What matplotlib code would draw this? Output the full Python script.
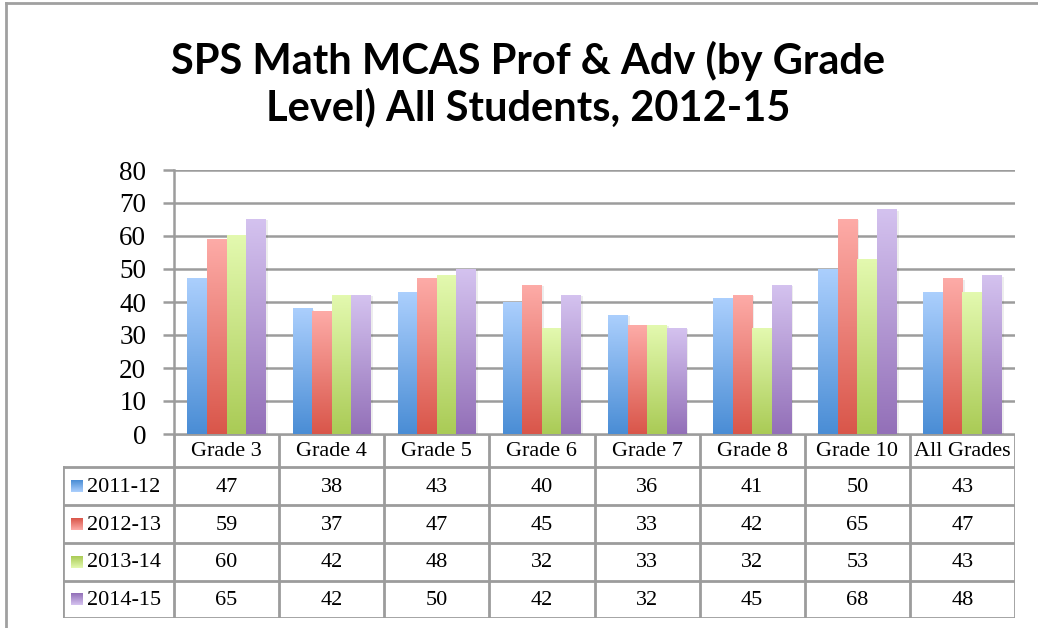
import numpy as np
import matplotlib
matplotlib.use("Agg")
import matplotlib.pyplot as plt
from matplotlib.colors import LinearSegmentedColormap
from matplotlib.lines import Line2D
from matplotlib.patches import Rectangle
from matplotlib import font_manager

# данные
grades = ["Grade 3", "Grade 4", "Grade 5", "Grade 6", "Grade 7", "Grade 8", "Grade 10", "All Grades"]
years = ["2011-12", "2012-13", "2013-14", "2014-15"]
v_2011 = [47, 38, 43, 40, 36, 41, 50, 43]
v_2012 = [59, 37, 47, 45, 33, 42, 65, 47]
v_2013 = [60, 42, 48, 32, 33, 32, 53, 43]
v_2014 = [65, 42, 50, 42, 32, 45, 68, 48]
series = [v_2011, v_2012, v_2013, v_2014]

# градиенты: (низ, верх)
grads = [("#4a8dd5", "#abcffd"),
         ("#d9564a", "#fdaba7"),
         ("#aacb56", "#e3f9af"),
         ("#9370b8", "#d4c2ef")]

W, H = 1038, 628
fig = plt.figure(figsize=(W / 100, H / 100), dpi=100)

names = {f.name for f in font_manager.fontManager.ttflist}
title_font = "Liberation Sans Narrow" if "Liberation Sans Narrow" in names else "Lato"
serif = "Liberation Serif"
grid_c = "#9c9c9c"

def px_axes(x0, y0, x1, y1):
    return fig.add_axes([x0 / W, 1 - y1 / H, (x1 - x0) / W, (y1 - y0) / H])

# рамка картинки
fig.add_artist(Line2D([6 / W, 1], [1 - 3 / H, 1 - 3 / H], color="#a0a0a0", lw=2))
fig.add_artist(Line2D([6 / W, 6 / W], [0, 1 - 3 / H], color="#a0a0a0", lw=2))

fig.text(528 / W, 1 - 84 / H, "SPS Math MCAS Prof & Adv (by Grade\nLevel) All Students, 2012-15",
         ha="center", va="center", fontsize=30, fontweight="bold", family=title_font,
         linespacing=1.2)

# график
ax = px_axes(174, 170, 1015, 434)
x = np.arange(len(grades))
bw = 0.186
for i, vals in enumerate(series):
    cmap = LinearSegmentedColormap.from_list("g%d" % i, grads[i])
    bars = ax.bar(x + (i - 1.5) * bw, vals, bw, color="none", zorder=3)
    for b in bars:
        x0, w, h = b.get_x(), b.get_width(), b.get_height()
        ax.add_patch(Rectangle((x0 + 0.02, 0), w, h - 0.3, color="#000000", alpha=0.07, zorder=2, lw=0))
        ax.imshow(np.linspace(0, 1, 128).reshape(-1, 1), cmap=cmap, origin="lower",
                  extent=[x0, x0 + w, 0, h], aspect="auto", zorder=3)

ax.set_xlim(-0.5, len(grades) - 0.5)
ax.set_ylim(0, 80)
ax.set_yticks(range(0, 81, 10))
ax.set_xticks([])
ax.grid(axis="y", color=grid_c, lw=1.8, zorder=1)
for s in ["top", "right", "bottom"]:
    ax.spines[s].set_visible(False)
ax.spines["left"].set_color(grid_c)
ax.spines["left"].set_linewidth(1.8)
ax.tick_params(axis="y", length=8, width=1.8, color=grid_c, pad=12, labelsize=19.5)
for lab in ax.get_yticklabels():
    lab.set_family(serif)
ax.set_facecolor("none")

# таблица
tx = px_axes(63, 434, 1015, 618)
left_x = -0.5 - (174 - 63) / ((1015 - 174) / len(grades))
tx.axis("off")
rows = [434, 467, 505, 543, 580.5, 618]
lk = dict(color=grid_c, lw=2, solid_capstyle="projecting")
tx.plot([-0.5, len(grades) - 0.5], [rows[0], rows[0]], **lk)
for r in rows[1:]:
    tx.plot([left_x, len(grades) - 0.5], [r, r], **lk)
for k in range(len(grades) + 1):
    tx.plot([k - 0.5, k - 0.5], [rows[0], rows[-1]], **lk)
tx.plot([left_x, left_x], [rows[1], rows[-1]], **lk)

fs = 16
for j, g in enumerate(grades):
    tx.text(j, (rows[0] + rows[1]) / 2 + 1, g, ha="center", va="center", fontsize=fs, family=serif)
px_unit = (1015 - 174) / len(grades)
for i, vals in enumerate(series):
    yc = (rows[i + 1] + rows[i + 2]) / 2
    cmap = LinearSegmentedColormap.from_list("k%d" % i, grads[i])
    kx = left_x + 8 / px_unit
    tx.imshow(np.linspace(0, 1, 32).reshape(-1, 1), cmap=cmap, origin="upper",
              extent=[kx, kx + 12 / px_unit, yc + 6, yc - 6], aspect="auto")
    tx.text(left_x + 24 / px_unit, yc + 1, years[i], ha="left", va="center", fontsize=fs, family=serif)
    for j, v in enumerate(vals):
        tx.text(j, yc + 1, str(v), ha="center", va="center", fontsize=fs, family=serif)
tx.set_xlim(left_x, len(grades) - 0.5)
tx.set_ylim(618, 434)

fig.savefig("out.png", dpi=100)
